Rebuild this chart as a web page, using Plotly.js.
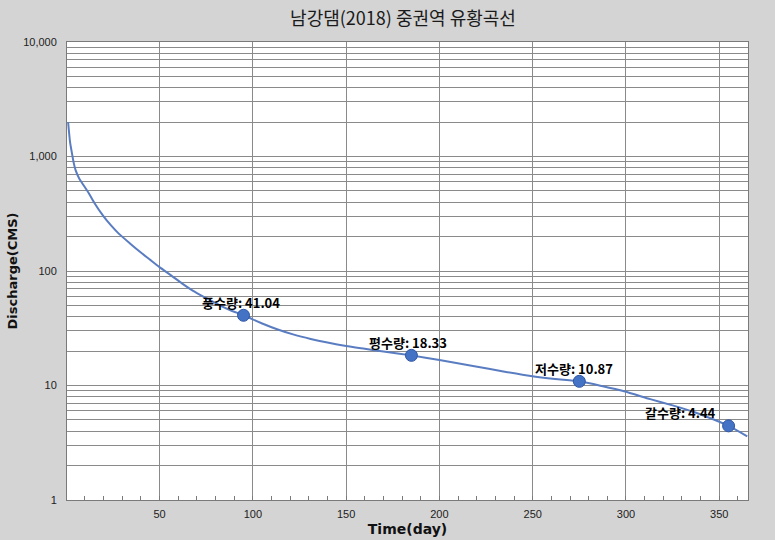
<!DOCTYPE html>
<html>
<head>
<meta charset="utf-8">
<script src="https://cdn.plot.ly/plotly-3.0.1.min.js"></script>
<style>html,body{margin:0;padding:0;background:#d4d4d4;}</style>
</head>
<body>
<div id="chart" style="width:775px;height:540px;"></div>
<script>
// Flow-duration curve
const days = [1, 2, 3, 4, 5, 7, 9, 12, 15, 20, 24, 28, 34, 40, 45, 50, 56, 62, 68, 75, 82, 88, 95,
  105, 113, 122, 131, 140, 150, 160, 170, 185, 200, 218, 235, 249, 262, 275, 287, 299, 313, 325, 336, 345, 355, 365];
const discharge = [2000, 1350, 1080, 880, 760, 640, 570, 480, 395, 300, 250, 213, 175, 145, 125, 108, 92, 78, 67, 58, 50.4, 45.4, 41.04,
  34.8, 31.0, 27.8, 25.5, 23.7, 22.1, 20.9, 19.8, 18.33, 16.7, 14.8, 13.2, 12.1, 11.4, 10.87, 9.9, 8.9, 7.6, 6.7, 5.9, 5.2, 4.44, 3.6];

const pointLabels = ["풍수량", "평수량", "저수량", "갈수량"];
const pointDays = [95, 185, 275, 355];
const pointValues = [41.04, 18.33, 10.87, 4.44];
const labelShiftX = [-3, -3, -5, -48];

const yTickVals = [1,2,3,4,5,6,7,8,9,10,20,30,40,50,60,70,80,90,100,200,300,400,500,600,700,800,900,1000,2000,3000,4000,5000,6000,7000,8000,9000,10000];
const yTickText = yTickVals.map(v => ({1:"1",10:"10",100:"100",1000:"1,000",10000:"10,000"}[v] || ""));
const xTickVals = [50, 100, 150, 200, 250, 300, 350];

const traces = [
  {
    x: days, y: discharge, type: "scatter", mode: "lines",
    line: {color: "#5a7dc2", width: 2, shape: "spline", smoothing: 0.6},
    hoverinfo: "skip", showlegend: false
  },
  {
    x: pointDays, y: pointValues, type: "scatter", mode: "markers",
    marker: {color: "#4472c4", size: 12, line: {color: "#2e56a6", width: 1}},
    showlegend: false
  }
];

const annotations = pointDays.map((d, i) => ({
  x: d, y: Math.log10(pointValues[i]), xref: "x", yref: "y",
  text: pointLabels[i] + ": " + pointValues[i].toFixed(2),
  showarrow: false, xshift: labelShiftX[i], yshift: 13,
  font: {family: "Noto Sans CJK KR, sans-serif", size: 13, color: "#000", weight: "bold"}
}));

const layout = {
  width: 775, height: 540,
  paper_bgcolor: "#d4d4d4", plot_bgcolor: "#ffffff",
  margin: {l: 67, r: 27, t: 42, b: 40},
  title: {
    text: "남강댐(2018) 중권역 유황곡선",
    font: {family: "Noto Sans CJK KR, sans-serif", size: 18, color: "#1a1a1a"},
    x: 0.52, xanchor: "center", y: 0.965, yanchor: "middle"
  },
  xaxis: {
    range: [0.4, 365.4],
    tickvals: xTickVals, ticks: "", showgrid: true, gridcolor: "#8a8a8a", gridwidth: 1,
    zeroline: false, showline: true, linecolor: "#7a7a7a", linewidth: 1, mirror: true,
    ticklabelstandoff: 4,
    tickfont: {family: "Liberation Sans, Arial, sans-serif", size: 11, color: "#222"},
    minor: {dtick: 10, tick0: 0, ticks: "inside", ticklen: 4, tickcolor: "#7a7a7a", showgrid: false},
    title: {text: "Time(day)", font: {family: "DejaVu Sans, sans-serif", size: 14, color: "#111", weight: "bold"}, standoff: 4}
  },
  yaxis: {
    type: "log", range: [0, 4],
    tickvals: yTickVals, ticktext: yTickText, ticks: "",
    showgrid: true, gridcolor: "#8a8a8a", gridwidth: 1,
    zeroline: false, showline: true, linecolor: "#7a7a7a", linewidth: 1, mirror: true,
    ticklabelstandoff: 7,
    tickfont: {family: "Liberation Sans, Arial, sans-serif", size: 11, color: "#222"},
    title: {text: "Discharge(CMS)", font: {family: "DejaVu Sans, sans-serif", size: 13, color: "#111", weight: "bold"}, standoff: 2}
  },
  annotations: annotations,
  font: {family: "Liberation Sans, Arial, sans-serif"}
};

Plotly.newPlot("chart", traces, layout, {displayModeBar: false, staticPlot: true});
</script>
</body>
</html>
